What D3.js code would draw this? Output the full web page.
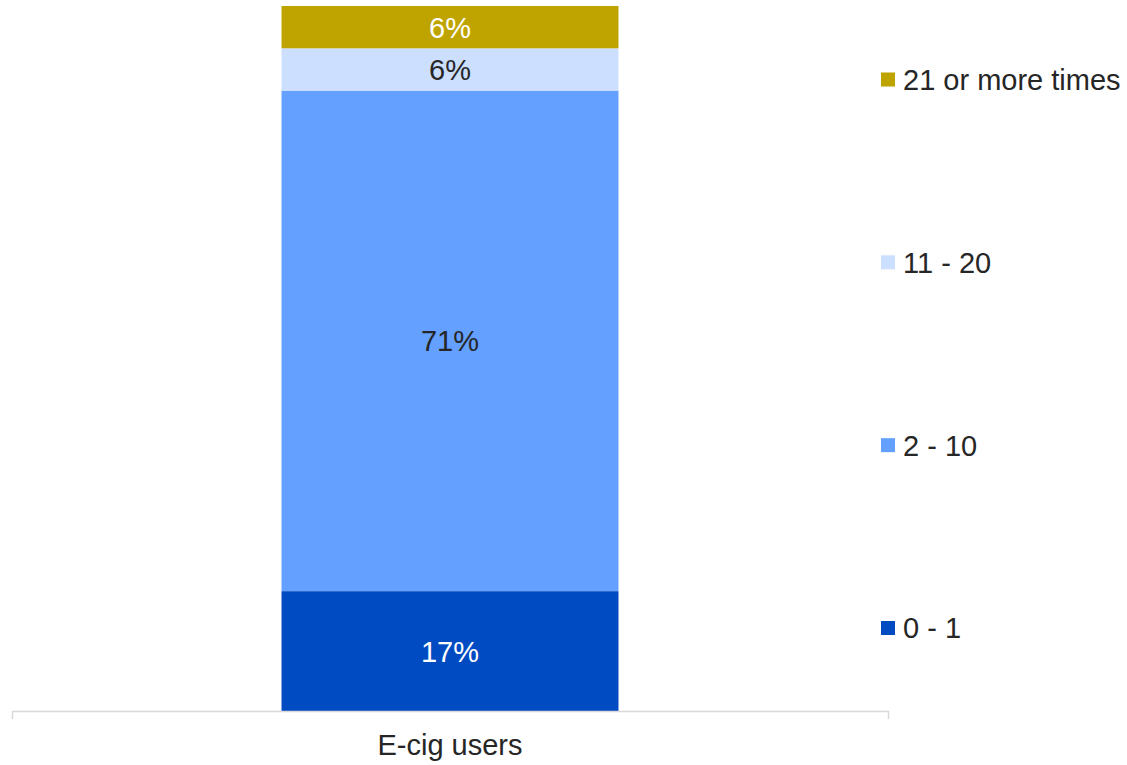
<!DOCTYPE html>
<html>
<head>
<meta charset="utf-8">
<script src="https://cdn.jsdelivr.net/npm/d3@7"></script>
<style>
  html, body { margin: 0; padding: 0; background: #fff; }
  svg { display: block; font-family: "Liberation Sans", Arial, sans-serif; }
</style>
</head>
<body>
<svg id="chart" width="1127" height="765"></svg>
<script>
// Frequency of use among e-cig users (share of respondents, %)
const categories = ["E-cig users"];
const seriesNames = ["0 - 1", "2 - 10", "11 - 20", "21 or more times"];
const seriesValues = [17, 71, 6, 6];
const seriesColors = ["#004ac2", "#64a0ff", "#cddfff", "#bfa400"];
const labelColors = ["#ffffff", "#262626", "#262626", "#ffffff"];

const svg = d3.select("#chart");
const fontSize = 29;

const x = d3.scaleBand().domain(categories).range([12, 888])
  .paddingInner(0.4444).paddingOuter(0.4444);
const y = d3.scaleLinear().domain([0, 100]).range([711, 6]);

// stack the segments bottom-up
const rows = [Object.fromEntries(seriesNames.map((n, i) => [n, seriesValues[i]]))];
rows[0].category = categories[0];
const stacked = d3.stack().keys(seriesNames)(rows);

const layers = svg.append("g").selectAll("g")
  .data(stacked).join("g");

layers.selectAll("rect")
  .data(d => d.map(p => ({ p, key: d.key, i: d.index })))
  .join("rect")
  .attr("x", d => x(d.p.data.category))
  .attr("width", x.bandwidth())
  .attr("y", d => y(d.p[1]))
  .attr("height", d => y(d.p[0]) - y(d.p[1]))
  .attr("fill", d => seriesColors[d.i]);

layers.selectAll("text")
  .data(d => d.map(p => ({ p, key: d.key, i: d.index })))
  .join("text")
  .attr("x", d => x(d.p.data.category) + x.bandwidth() / 2)
  .attr("y", d => (y(d.p[0]) + y(d.p[1])) / 2 + fontSize * 0.36)
  .attr("text-anchor", "middle")
  .attr("font-size", fontSize)
  .attr("fill", d => labelColors[d.i])
  .text(d => (d.p[1] - d.p[0]) + "%");

// category axis
const axis = svg.append("g")
  .attr("transform", "translate(0,711)")
  .call(d3.axisBottom(x).tickSizeInner(0).tickSizeOuter(8).tickPadding(23));
axis.select(".domain").attr("stroke", "#d9d9d9").attr("stroke-width", 1.5);
axis.selectAll(".tick text")
  .attr("font-size", fontSize)
  .attr("font-family", "\"Liberation Sans\", Arial, sans-serif")
  .attr("fill", "#262626");

// legend, top entry = last series
const legendY = d3.scalePoint().domain(seriesNames.slice().reverse()).range([79.5, 628]);
const legend = svg.append("g").selectAll("g")
  .data(seriesNames).join("g")
  .attr("transform", d => `translate(881,${legendY(d)})`);
legend.append("rect")
  .attr("x", 0).attr("y", -7).attr("width", 14).attr("height", 14)
  .attr("fill", (d, i) => seriesColors[i]);
legend.append("text")
  .attr("x", 22).attr("y", fontSize * 0.36)
  .attr("font-size", fontSize)
  .attr("fill", "#262626")
  .text(d => d);
</script>
</body>
</html>
